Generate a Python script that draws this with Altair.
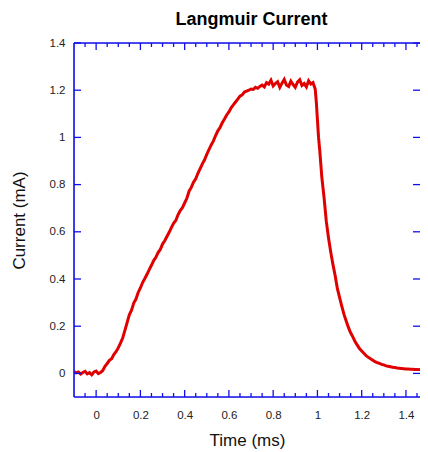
import altair as alt
import pandas as pd

# Time (ms)
time_ms = [
    -0.10, -0.09, -0.08, -0.07, -0.06, -0.05, -0.04, -0.03, -0.02, -0.01,
    0.00, 0.01, 0.02, 0.03, 0.04, 0.05, 0.06, 0.07, 0.08, 0.09,
    0.10, 0.11, 0.12, 0.13, 0.14, 0.15, 0.16, 0.17, 0.18, 0.19,
    0.20, 0.21, 0.22, 0.23, 0.24, 0.25, 0.26, 0.27, 0.28, 0.29,
    0.30, 0.31, 0.32, 0.33, 0.34, 0.35, 0.36, 0.37, 0.38, 0.39,
    0.40, 0.41, 0.42, 0.43, 0.44, 0.45, 0.46, 0.47, 0.48, 0.49,
    0.50, 0.51, 0.52, 0.53, 0.54, 0.55, 0.56, 0.57, 0.58, 0.59,
    0.60, 0.61, 0.62, 0.63, 0.64, 0.65, 0.66, 0.67, 0.68, 0.69,
    0.70, 0.71, 0.72, 0.73, 0.74, 0.75, 0.76, 0.77, 0.78, 0.79,
    0.80, 0.81, 0.82, 0.83, 0.84, 0.85, 0.86, 0.87, 0.88, 0.89,
    0.90, 0.91, 0.92, 0.93, 0.94, 0.95, 0.96, 0.97, 0.98, 0.99,
    0.995, 1.00, 1.005, 1.01, 1.015, 1.02, 1.03, 1.04, 1.05, 1.06,
    1.07, 1.08, 1.09, 1.10, 1.11, 1.12, 1.13, 1.14, 1.15, 1.16,
    1.17, 1.18, 1.19, 1.20, 1.21, 1.22, 1.23, 1.24, 1.25, 1.26,
    1.27, 1.28, 1.29, 1.30, 1.31, 1.32, 1.33, 1.34, 1.35, 1.36,
    1.37, 1.38, 1.39, 1.40, 1.41, 1.42, 1.43, 1.44, 1.45, 1.46,
    1.47, 1.48, 1.49, 1.50,
]

# Current (mA)
current_ma = [
    0.008, 0.002, 0.006, -0.003, 0.004, 0.009, -0.002, 0.003, -0.006, 0.006,
    0.010, -0.001, 0.004, 0.012, 0.030, 0.042, 0.055, 0.062, 0.080, 0.092,
    0.108, 0.128, 0.150, 0.182, 0.215, 0.248, 0.268, 0.298, 0.315, 0.343,
    0.362, 0.385, 0.402, 0.420, 0.440, 0.458, 0.478, 0.492, 0.512, 0.525,
    0.548, 0.562, 0.580, 0.598, 0.618, 0.636, 0.648, 0.672, 0.690, 0.702,
    0.722, 0.742, 0.772, 0.788, 0.810, 0.825, 0.848, 0.868, 0.888, 0.905,
    0.928, 0.948, 0.968, 0.985, 1.008, 1.028, 1.042, 1.062, 1.078, 1.095,
    1.108, 1.125, 1.138, 1.150, 1.162, 1.175, 1.180, 1.192, 1.196, 1.200,
    1.205, 1.203, 1.212, 1.208, 1.216, 1.222, 1.214, 1.232, 1.226, 1.242,
    1.218, 1.228, 1.236, 1.212, 1.230, 1.246, 1.222, 1.216, 1.238, 1.224,
    1.212, 1.234, 1.244, 1.220, 1.228, 1.214, 1.240, 1.226, 1.232, 1.205,
    1.150, 1.075, 1.000, 0.950, 0.890, 0.830, 0.745, 0.645, 0.575, 0.515,
    0.462, 0.415, 0.360, 0.322, 0.285, 0.250, 0.222, 0.195, 0.172, 0.155,
    0.135, 0.120, 0.105, 0.095, 0.085, 0.075, 0.068, 0.062, 0.056, 0.050,
    0.046, 0.042, 0.038, 0.036, 0.032, 0.030, 0.028, 0.026, 0.025, 0.023,
    0.022, 0.021, 0.020, 0.019, 0.019, 0.018, 0.018, 0.017, 0.017, 0.016,
    0.016, 0.016, 0.015, 0.015,
]

x_major = [0, 0.2, 0.4, 0.6, 0.8, 1, 1.2, 1.4]
x_minor = [-0.05, 0.05, 0.1, 0.15, 0.25, 0.3, 0.35, 0.45, 0.5, 0.55, 0.65, 0.7,
           0.75, 0.85, 0.9, 0.95, 1.05, 1.1, 1.15, 1.25, 1.3, 1.35, 1.45]
y_major = [0, 0.2, 0.4, 0.6, 0.8, 1, 1.2, 1.4]

# visible part of the time axis (the original frame runs past the right edge)
x_domain = [-0.1, 1.4635]
y_domain = [-0.1, 1.4]

W, H = 346, 354
BLUE = "#1010ee"
FONT = "Liberation Sans"

df = pd.DataFrame({"t": time_ms, "i": current_ma})
xs = alt.Scale(domain=x_domain, nice=False, zero=False)
ys = alt.Scale(domain=y_domain, nice=False, zero=False)

xaxis = alt.Axis(values=x_major, format="~g", grid=False, domain=False,
                 ticks=False, tickSize=0, labelPadding=12,
                 labelFont=FONT, labelFontSize=11.5, labelColor="#222",
                 titleFont=FONT, titleFontSize=17, titleFontWeight="normal",
                 titleColor="#111", titlePadding=12)
yaxis = alt.Axis(values=y_major, format="~g", grid=False, domain=False,
                 ticks=False, tickSize=0, labelPadding=9,
                 labelFont=FONT, labelFontSize=11.5, labelColor="#222",
                 titleFont=FONT, titleFontSize=17, titleFontWeight="normal",
                 titleColor="#111", titlePadding=21)

X_TITLE = "Time (ms)"
Y_TITLE = "Current (mA)"

line = alt.Chart(df).mark_line(color="#e00000", strokeWidth=3, clip=True).encode(
    x=alt.X("t:Q", scale=xs, title=X_TITLE, axis=xaxis),
    y=alt.Y("i:Q", scale=ys, title=Y_TITLE, axis=yaxis),
)

xmaj = pd.DataFrame({"v": x_major})
xmin = pd.DataFrame({"v": x_minor})
ymaj = pd.DataFrame({"v": y_major})
frame_df = pd.DataFrame({"k": [0]})

def xticks(data, length):
    bottom = alt.Chart(data).mark_rule(color=BLUE, strokeWidth=1.3).encode(
        x=alt.X("v:Q", scale=xs, title=X_TITLE, axis=xaxis),
        y=alt.value(H), y2=alt.value(H - length))
    top = alt.Chart(data).mark_rule(color=BLUE, strokeWidth=1.3).encode(
        x=alt.X("v:Q", scale=xs, title=X_TITLE, axis=xaxis),
        y=alt.value(0), y2=alt.value(length))
    return [bottom, top]

def yticks(data, length):
    left = alt.Chart(data).mark_rule(color=BLUE, strokeWidth=1.3).encode(
        y=alt.Y("v:Q", scale=ys, title=Y_TITLE, axis=yaxis),
        x=alt.value(0), x2=alt.value(length))
    right = alt.Chart(data).mark_rule(color=BLUE, strokeWidth=1.3).encode(
        y=alt.Y("v:Q", scale=ys, title=Y_TITLE, axis=yaxis),
        x=alt.value(W), x2=alt.value(W - length))
    return [left, right]

# frame: left, top and bottom edges (the right edge lies outside the picture)
frame_left = alt.Chart(frame_df).mark_rule(color=BLUE, strokeWidth=1.6).encode(
    x=alt.value(0), y=alt.value(0), y2=alt.value(H))
frame_top = alt.Chart(frame_df).mark_rule(color=BLUE, strokeWidth=1.6).encode(
    x=alt.value(0), x2=alt.value(W), y=alt.value(0))
frame_bottom = alt.Chart(frame_df).mark_rule(color=BLUE, strokeWidth=1.6).encode(
    x=alt.value(0), x2=alt.value(W), y=alt.value(H))

layers = ([line] + xticks(xmaj, 7) + xticks(xmin, 4) + yticks(ymaj, 7)
          + [frame_left, frame_top, frame_bottom])

chart = alt.layer(*layers).properties(
    width=W, height=H,
    autosize=alt.AutoSizeParams(type="none"),
    padding={"left": 66, "top": 35, "right": 0, "bottom": 52},
    title=alt.TitleParams("Langmuir Current", font=FONT, fontSize=18,
                          fontWeight="bold", color="#000", anchor="middle",
                          offset=8, dx=4.5),
).configure_view(strokeWidth=0).configure(background="white")

chart.save("out.html", embed_options={"renderer": "svg", "actions": False})
